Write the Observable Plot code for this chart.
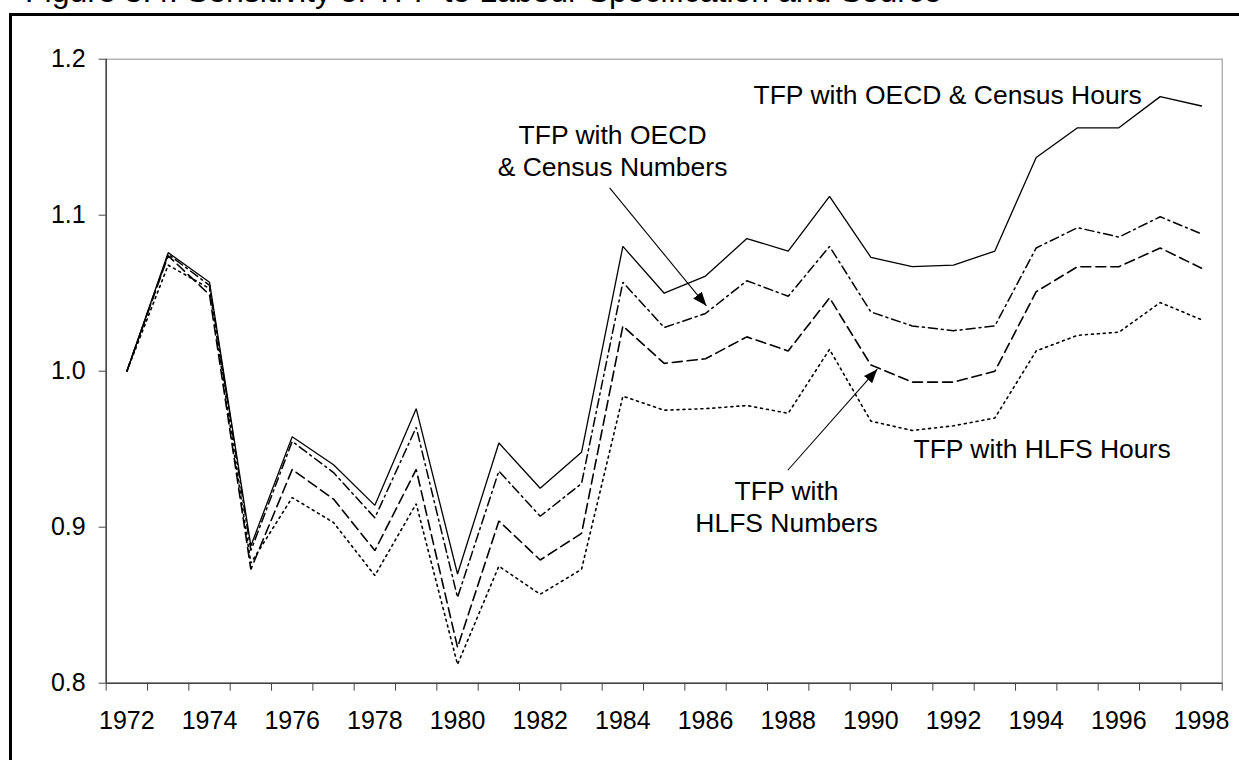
<!DOCTYPE html>
<html><head><meta charset="utf-8">
<script src="https://cdn.jsdelivr.net/npm/d3@7"></script>
<script src="https://cdn.jsdelivr.net/npm/@observablehq/plot@0.6"></script>
<style>
body{margin:0;background:#fff;}
#wrap{position:relative;width:1239px;height:760px;overflow:hidden;background:#fff;font-family:"Liberation Sans",Arial,sans-serif;}
#title{position:absolute;left:25px;top:-25px;font-size:32px;line-height:32px;white-space:nowrap;color:#000;}
#frame{position:absolute;left:9px;top:12.5px;width:1300px;height:800px;border:3px solid #000;box-sizing:border-box;pointer-events:none;}
#chart{position:absolute;left:0;top:0;}
</style></head>
<body><div id="wrap"><div id="title">Figure 3.4: Sensitivity of TFP to Labour Specification and Source</div><div id="chart"></div><div id="frame"></div></div>
<script>
// Categories
const years = [1972,1973,1974,1975,1976,1977,1978,1979,1980,1981,1982,1983,1984,1985,1986,1987,1988,1989,1990,1991,1992,1993,1994,1995,1996,1997,1998];
// Series values
const hoursOECD   = [1.000,1.076,1.057,0.888,0.958,0.940,0.914,0.976,0.870,0.954,0.925,0.948,1.080,1.050,1.061,1.085,1.077,1.112,1.073,1.067,1.068,1.077,1.137,1.156,1.156,1.176,1.170];
const numbersOECD = [1.000,1.075,1.055,0.885,0.955,0.935,0.906,0.964,0.855,0.936,0.907,0.928,1.057,1.028,1.037,1.058,1.048,1.080,1.038,1.029,1.026,1.029,1.079,1.092,1.086,1.099,1.088];
const numbersHLFS = [1.000,1.074,1.049,0.873,0.937,0.918,0.885,0.937,0.823,0.904,0.879,0.896,1.029,1.005,1.008,1.022,1.013,1.047,1.004,0.993,0.993,1.000,1.051,1.067,1.067,1.079,1.066];
const hoursHLFS   = [1.000,1.068,1.053,0.877,0.919,0.903,0.869,0.915,0.812,0.875,0.857,0.873,0.984,0.975,0.976,0.978,0.973,1.014,0.968,0.962,0.965,0.970,1.013,1.023,1.025,1.044,1.033];
// Tick labels
const yTicks = [0.8,0.9,1.0,1.1,1.2];
const xLabelYears = [1972,1974,1976,1978,1980,1982,1984,1986,1988,1990,1992,1994,1996,1998];
// Annotation labels (anchored in data coordinates)
const labelText   = ["TFP with OECD & Census Hours","TFP with OECD\n& Census Numbers","TFP with HLFS Hours","TFP with\nHLFS Numbers"];
const labelYear   = [1987.16,1983.75,1991.03,1987.96];
const labelValue  = [1.178,1.142,0.951,0.914];
const labelAnchor = ["start","middle","start","middle"];
// Annotation arrows
const arrowYear1  = [1983.68,1987.99];
const arrowValue1 = [1.1175,0.9365];
const arrowYear2  = [1986.02,1990.155];
const arrowValue2 = [1.0419,1.0013];

const series = [
  {name:"TFP with OECD & Census Hours", values:hoursOECD, dash:null, width:1.3},
  {name:"TFP with OECD & Census Numbers", values:numbersOECD, dash:"9,4,2,4", width:1.5},
  {name:"TFP with HLFS Numbers", values:numbersHLFS, dash:"10,5", width:1.6},
  {name:"TFP with HLFS Hours", values:hoursHLFS, dash:"2,4", width:1.6}
];
const bounds = [...years.map(y => y - 0.5), years[years.length-1] + 0.5];
const labels = labelText.map((t,i) => ({text:t, x:labelYear[i], y:labelValue[i], anchor:labelAnchor[i]}));
const arrows = arrowYear1.map((x,i) => ({x1:x, y1:arrowValue1[i], x2:arrowYear2[i], y2:arrowValue2[i]}));

function headMarker(color) {
  const m = d3.create("svg:marker")
    .attr("viewBox","-7 -6 14 12")
    .attr("markerWidth",14).attr("markerHeight",12)
    .attr("markerUnits","userSpaceOnUse")
    .attr("orient","auto")
    .attr("refX",7).attr("refY",0);
  m.append("path").attr("d","M-7,-5.5L7,0L-7,5.5Z").attr("fill","black").attr("stroke","none");
  return m.node();
}

const lineMarks = series.map(s => Plot.lineY(s.values.map((v,i)=>({x:years[i], y:v})), {
  x:"x", y:"y", stroke:"black", strokeWidth:s.width, strokeDasharray:s.dash, strokeLinejoin:"miter"
}));

const textMarks = ["start","middle"].map(a => Plot.text(labels.filter(d => d.anchor === a), {
  x:"x", y:"y", text:"text", textAnchor:a, lineAnchor:"middle", lineHeight:1.22, fontSize:26.5, fill:"black"
}));

const chart = Plot.plot({
  width:1239, height:760,
  marginLeft:105.7, marginRight:17.3, marginTop:58.7, marginBottom:77.3,
  style:{fontFamily:'"Liberation Sans",Arial,sans-serif', fontSize:"25px", color:"black", background:"transparent", overflow:"visible"},
  x:{type:"linear", domain:[bounds[0], bounds[bounds.length-1]], axis:null},
  y:{domain:[0.8,1.2], axis:null},
  marks:[
    Plot.frame({stroke:"#a0a0a0", strokeWidth:1.2}),
    Plot.axisY({ticks:yTicks, tickFormat:d3.format(".1f"), tickSize:7, tickPadding:13.5, stroke:"#444", fontSize:25}),
    Plot.axisX({ticks:bounds, tickFormat:() => "", tickSize:8, stroke:"#444"}),
    Plot.axisX({ticks:xLabelYears, tickFormat:d3.format("d"), tickSize:0, tickPadding:28.5, fontSize:25}),
    Plot.ruleX([bounds[0]], {stroke:"#444", strokeWidth:1.5}),
    Plot.ruleY([0.8], {stroke:"#444", strokeWidth:1.5}),
    ...lineMarks,
    ...textMarks,
    Plot.link(arrows, {x1:"x1", y1:"y1", x2:"x2", y2:"y2", stroke:"black", strokeWidth:1.1, markerEnd:headMarker})
  ]
});
document.getElementById("chart").appendChild(chart);
</script>
</body></html>
